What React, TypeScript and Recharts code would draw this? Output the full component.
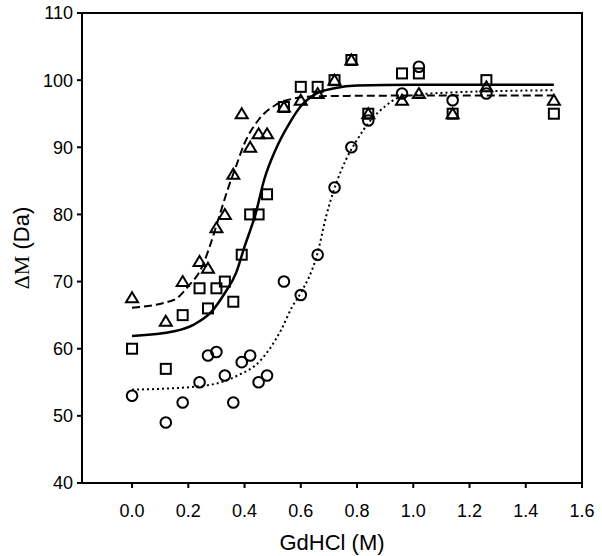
import React from 'react'
import {
  ComposedChart,
  XAxis,
  YAxis,
  Scatter,
  Line,
  ReferenceArea,
} from 'recharts'

const triangles = [
  { x: 0, y: 67.6 }, { x: 0.12, y: 64.1 }, { x: 0.18, y: 70 }, { x: 0.24, y: 73 },
  { x: 0.27, y: 72 }, { x: 0.3, y: 78 }, { x: 0.33, y: 80 }, { x: 0.36, y: 86 },
  { x: 0.39, y: 95 }, { x: 0.42, y: 90 }, { x: 0.45, y: 92 }, { x: 0.48, y: 92 },
  { x: 0.54, y: 96 }, { x: 0.6, y: 97 }, { x: 0.66, y: 98 }, { x: 0.72, y: 100 },
  { x: 0.78, y: 103 }, { x: 0.84, y: 95 }, { x: 0.96, y: 97 }, { x: 1.02, y: 98 },
  { x: 1.14, y: 95 }, { x: 1.26, y: 99 }, { x: 1.5, y: 97 },
]

const squares = [
  { x: 0, y: 60 }, { x: 0.12, y: 57 }, { x: 0.18, y: 65 }, { x: 0.24, y: 69 },
  { x: 0.27, y: 66 }, { x: 0.3, y: 69 }, { x: 0.33, y: 70 }, { x: 0.36, y: 67 },
  { x: 0.39, y: 74 }, { x: 0.42, y: 80 }, { x: 0.45, y: 80 }, { x: 0.48, y: 83 },
  { x: 0.54, y: 96 }, { x: 0.6, y: 99 }, { x: 0.66, y: 99 }, { x: 0.72, y: 100 },
  { x: 0.78, y: 103 }, { x: 0.84, y: 95 }, { x: 0.96, y: 101 }, { x: 1.02, y: 101 },
  { x: 1.14, y: 95 }, { x: 1.26, y: 100 }, { x: 1.5, y: 95 },
]

const circles = [
  { x: 0, y: 53 }, { x: 0.12, y: 49 }, { x: 0.18, y: 52 }, { x: 0.24, y: 55 },
  { x: 0.27, y: 59 }, { x: 0.3, y: 59.5 }, { x: 0.33, y: 56 }, { x: 0.36, y: 52 },
  { x: 0.39, y: 58 }, { x: 0.42, y: 59 }, { x: 0.45, y: 55 }, { x: 0.48, y: 56 },
  { x: 0.54, y: 70 }, { x: 0.6, y: 68 }, { x: 0.66, y: 74 }, { x: 0.72, y: 84 },
  { x: 0.78, y: 90 }, { x: 0.84, y: 94 }, { x: 0.96, y: 98 }, { x: 1.02, y: 102 },
  { x: 1.14, y: 97 }, { x: 1.26, y: 98 },
]

// fitted curves, sampled from the figure
const solidFit = [
  { x: 0, y: 61.9 }, { x: 0.15, y: 62.6 }, { x: 0.22, y: 63.6 }, { x: 0.28, y: 65.4 },
  { x: 0.33, y: 68.3 }, { x: 0.37, y: 71.3 }, { x: 0.4, y: 75.2 }, { x: 0.44, y: 80.2 },
  { x: 0.47, y: 85.2 }, { x: 0.51, y: 89.6 }, { x: 0.56, y: 93.6 }, { x: 0.6, y: 96.1 },
  { x: 0.66, y: 98.1 }, { x: 0.72, y: 98.8 }, { x: 0.8, y: 99.2 }, { x: 1.0, y: 99.3 },
  { x: 1.5, y: 99.3 },
]

const dashedFit = [
  { x: 0, y: 66.1 }, { x: 0.15, y: 67.3 }, { x: 0.2, y: 69.3 }, { x: 0.25, y: 72.3 },
  { x: 0.28, y: 75.7 }, { x: 0.31, y: 79.7 }, { x: 0.34, y: 83.7 }, { x: 0.37, y: 87.2 },
  { x: 0.4, y: 90.6 }, { x: 0.45, y: 94.1 }, { x: 0.51, y: 96.3 }, { x: 0.58, y: 97.3 },
  { x: 0.65, y: 97.6 }, { x: 1.0, y: 97.7 }, { x: 1.5, y: 97.7 },
]

const dottedFit = [
  { x: 0, y: 53.9 }, { x: 0.24, y: 54.4 }, { x: 0.37, y: 55.9 }, { x: 0.46, y: 58.4 },
  { x: 0.53, y: 62.8 }, { x: 0.57, y: 66.3 }, { x: 0.6, y: 68.3 }, { x: 0.66, y: 74.3 },
  { x: 0.69, y: 79.7 }, { x: 0.72, y: 83.9 }, { x: 0.76, y: 88.1 }, { x: 0.8, y: 91.1 },
  { x: 0.85, y: 94.1 }, { x: 0.9, y: 96.1 }, { x: 0.95, y: 97.4 }, { x: 1.1, y: 98.1 },
  { x: 1.5, y: 98.5 },
]

const xTicks = [0, 0.2, 0.4, 0.6, 0.8, 1.0, 1.2, 1.4, 1.6]
const yTicks = [40, 50, 60, 70, 80, 90, 100, 110]
const xDomain = [-0.178, 1.6]
const yDomain = [40, 110]

const FONT = '"Liberation Sans", Arial, sans-serif'
const tickStyle = { fill: '#000', fontSize: 18, fontFamily: FONT }

const Triangle = ({ cx, cy }: any) => (
  <path
    d={`M${cx},${cy - 5.5} L${cx + 6},${cy + 4.5} L${cx - 6},${cy + 4.5} Z`}
    fill="none"
    stroke="#000"
    strokeWidth={2}
  />
)

const Square = ({ cx, cy }: any) => (
  <rect x={cx - 5} y={cy - 5} width={10} height={10} fill="none" stroke="#000" strokeWidth={2} />
)

const Circle = ({ cx, cy }: any) => (
  <circle cx={cx} cy={cy} r={5.3} fill="none" stroke="#000" strokeWidth={2} />
)

const YLabel = ({ viewBox }: any) => {
  const cx = 21
  const cy = viewBox.y + viewBox.height / 2
  return (
    <text
      x={cx}
      y={cy}
      transform={`rotate(-90, ${cx}, ${cy})`}
      textAnchor="middle"
      dominantBaseline="central"
      fontSize={22}
      fill="#000"
    >
      <tspan fontFamily='"Liberation Serif", "Times New Roman", serif'>ΔM</tspan>
      <tspan fontFamily={FONT}> (Da)</tspan>
    </text>
  )
}

const XLabel = ({ viewBox }: any) => {
  const cx = viewBox.x + viewBox.width / 2
  return (
    <text x={cx} y={550} textAnchor="middle" fontSize={22} fontFamily={FONT} fill="#000">
      GdHCl (M)
    </text>
  )
}

export default function App() {
  return (
    <div style={{ position: 'fixed', left: 0, top: 0, background: '#fff' }}>
      <ComposedChart
        width={602}
        height={556}
        margin={{ top: 13, right: 20, bottom: 0, left: 0 }}
      >
        <XAxis
          dataKey="x"
          type="number"
          domain={xDomain}
          ticks={xTicks}
          tickFormatter={(v: number) => v.toFixed(1)}
          allowDataOverflow
          height={73}
          tick={tickStyle}
          tickSize={5}
          tickMargin={16}
          axisLine={{ stroke: '#000', strokeWidth: 2 }}
          tickLine={{ stroke: '#000', strokeWidth: 2 }}
          label={<XLabel />}
        />
        <YAxis
          dataKey="y"
          type="number"
          domain={yDomain}
          ticks={yTicks}
          allowDataOverflow
          width={82}
          tick={tickStyle}
          tickSize={5}
          tickMargin={4}
          axisLine={{ stroke: '#000', strokeWidth: 2 }}
          tickLine={{ stroke: '#000', strokeWidth: 2 }}
          label={<YLabel />}
        />
        <ReferenceArea
          x1={xDomain[0]}
          x2={xDomain[1]}
          y1={yDomain[0]}
          y2={yDomain[1]}
          fill="none"
          fillOpacity={0}
          stroke="#000"
          strokeWidth={2}
          ifOverflow="visible"
        />
        <Line
          data={solidFit}
          dataKey="y"
          type="monotone"
          stroke="#000"
          strokeWidth={2.5}
          dot={false}
          activeDot={false}
          isAnimationActive={false}
        />
        <Line
          data={dashedFit}
          dataKey="y"
          type="monotone"
          stroke="#000"
          strokeWidth={2}
          strokeDasharray="8 4"
          dot={false}
          activeDot={false}
          isAnimationActive={false}
        />
        <Line
          data={dottedFit}
          dataKey="y"
          type="monotone"
          stroke="#000"
          strokeWidth={2}
          strokeDasharray="2 3"
          dot={false}
          activeDot={false}
          isAnimationActive={false}
        />
        <Scatter data={triangles} dataKey="y" shape={<Triangle />} isAnimationActive={false} />
        <Scatter data={squares} dataKey="y" shape={<Square />} isAnimationActive={false} />
        <Scatter data={circles} dataKey="y" shape={<Circle />} isAnimationActive={false} />
      </ComposedChart>
    </div>
  )
}
